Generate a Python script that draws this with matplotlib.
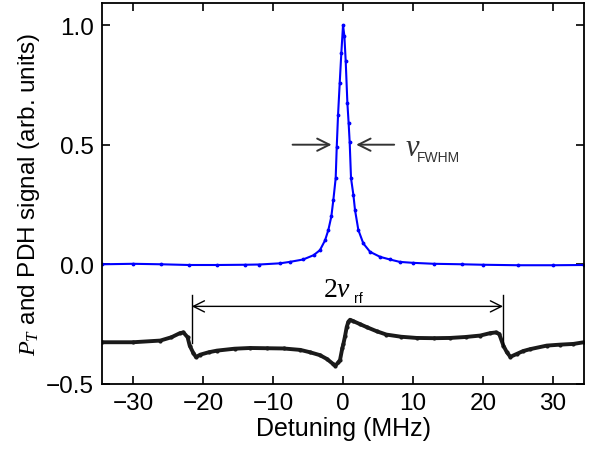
import matplotlib
matplotlib.use("Agg")
import matplotlib.pyplot as plt

plt.rcParams['font.family'] = ['Liberation Sans', 'DejaVu Sans']
plt.rcParams['mathtext.fontset'] = 'custom'
plt.rcParams['mathtext.rm'] = 'Liberation Serif'
plt.rcParams['mathtext.it'] = 'Liberation Serif:italic'
plt.rcParams['mathtext.sf'] = 'Liberation Sans'

# transmission P_T (blue)
pt_x = [-34.4, -30, -26, -22, -18, -14, -12, -9, -7.6, -5.7, -4.2, -3.3, -2.57, -2.1,
        -1.67, -1.38, -1.05, -0.9, -0.71, -0.47, -0.24, 0.0, 0.19, 0.38, 0.62, 0.8,
        0.95, 1.14, 1.48, 1.71, 2.19, 2.9, 3.86, 5.3, 6.7, 8.1, 10, 13, 17, 20, 25,
        30, 34.4]
pt_y = [0.0, 0.002, 0.0, -0.003, -0.003, -0.002, -0.001, 0.004, 0.01, 0.02, 0.038,
        0.059, 0.10, 0.143, 0.2, 0.27, 0.36, 0.49, 0.626, 0.76, 0.885, 1.0, 0.955,
        0.85, 0.675, 0.59, 0.51, 0.36, 0.29, 0.227, 0.143, 0.087, 0.052, 0.031, 0.02,
        0.01, 0.006, 0.002, 0.0, -0.002, -0.004, -0.004, -0.003]

# PDH error signal (black)
pdh_x = [-34.4, -30, -26.1, -24.5, -23.3, -22.8, -22.2, -21.9, -21.4, -21.0, -20.4,
         -19.2, -18.0, -15.5, -13.3, -10.9, -8.5, -6.1, -4.7, -3.3, -2.3, -1.5, -1.1,
         -0.67, -0.43, -0.1, 0.05, 0.29, 0.52, 0.76, 1.0, 1.48, 2.4, 3.4, 4.8, 6.2,
         8.3, 10.5, 13, 15.3, 17.5, 19.6, 21.0, 21.8, 22.3, 22.9, 23.4, 23.9, 24.8,
         25.7, 26.7, 29.1, 31, 32.9, 34.4]
pdh_y = [-0.326, -0.326, -0.319, -0.305, -0.288, -0.285, -0.305, -0.34, -0.37, -0.388,
         -0.378, -0.368, -0.361, -0.353, -0.35, -0.351, -0.352, -0.358, -0.368, -0.38,
         -0.396, -0.415, -0.424, -0.41, -0.40, -0.35, -0.333, -0.30, -0.263, -0.24,
         -0.232, -0.238, -0.25, -0.263, -0.28, -0.294, -0.303, -0.308, -0.309, -0.308,
         -0.304, -0.298, -0.288, -0.285, -0.291, -0.34, -0.368, -0.387, -0.375, -0.363,
         -0.355, -0.34, -0.336, -0.333, -0.326]

xticks = [-30, -20, -10, 0, 10, 20, 30]
yticks = [-0.5, 0.0, 0.5, 1.0]

fig = plt.figure(figsize=(5.94, 4.56), dpi=100)
ax = fig.add_axes([0.172, 0.156, 0.811, 0.835])

ax.plot(pdh_x, pdh_y, color='#1a1a1a', lw=2.8, marker='.', ms=4)
ax.plot(pt_x, pt_y, color='#0000ff', lw=1.5, marker='.', ms=3.5)

ax.set_xlim(-34.4, 34.4)
ax.set_ylim(-0.5, 1.092)
ax.set_xticks(xticks)
ax.set_yticks(yticks)
ax.set_xticklabels(['\u2212' + str(abs(t)) if t < 0 else str(t) for t in xticks])
ax.set_yticklabels(['\u22120.5', '0.0', '0.5', '1.0'])
ax.tick_params(direction='in', length=6, width=1.2, top=True, right=True,
               labelsize=17.5, pad=6)
for s in ax.spines.values():
    s.set_linewidth(1.3)

ax.set_xlabel('Detuning (MHz)', fontsize=18, labelpad=1)
ax.set_ylabel('$P_T$ and PDH signal (arb. units)', fontsize=17.5, labelpad=3)

# FWHM arrows
grey = '#333333'
ax.annotate('', xy=(-1.24, 0.5), xytext=(-7.6, 0.5),
            arrowprops=dict(arrowstyle='->', color=grey, lw=1.4, mutation_scale=22))
ax.annotate('', xy=(1.48, 0.5), xytext=(7.7, 0.5),
            arrowprops=dict(arrowstyle='->', color=grey, lw=1.4, mutation_scale=22))
ax.text(8.8, 0.458, r'$\nu$', fontsize=22, color=grey, ha='left', va='baseline')
ax.text(10.5, 0.43, 'FWHM', fontsize=10, color=grey, ha='left', va='baseline')

# 2 nu_rf marker
ax.annotate('', xy=(-21.6, -0.176), xytext=(22.85, -0.176),
            arrowprops=dict(arrowstyle='<->', color='black', lw=1.0, mutation_scale=20,
                            shrinkA=0, shrinkB=0))
ax.plot([-21.6, -21.6], [-0.13, -0.33], color='black', lw=1.0)
ax.plot([22.85, 22.85], [-0.13, -0.34], color='black', lw=1.0)
ax.text(-2.9, -0.133, r'$2\nu$', fontsize=20, ha='left', va='baseline')
ax.text(1.6, -0.158, 'rf', fontsize=10, ha='left', va='baseline')

plt.savefig('out.png', dpi=100)
